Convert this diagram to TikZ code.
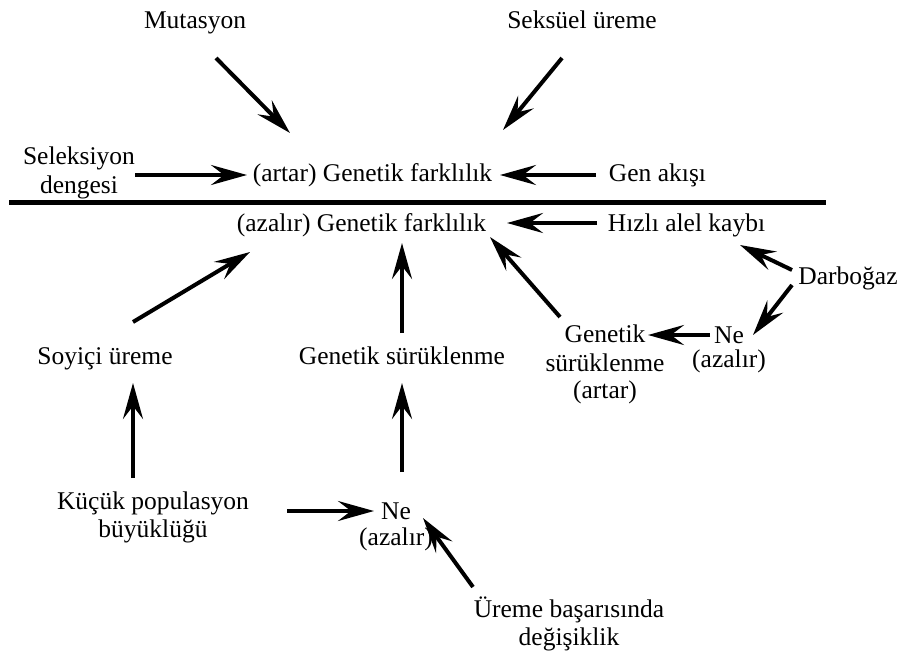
\documentclass[tikz,border=0pt]{standalone}
\usepackage{fontspec}
\setmainfont{Liberation Serif}
\usetikzlibrary{arrows.meta}
\tikzset{
  lbl/.style={inner sep=0pt, anchor=base, align=center,
    font=\fontsize{25.5}{29}\selectfont},
  arr/.style={line width=4pt,
    -{Stealth[length=36pt, width=20pt, inset=13pt]}},
}
\begin{document}
\begin{tikzpicture}[x=1pt,y=-1pt]
\useasboundingbox (0,0) rectangle (905,656);

% labels above the dividing line (multi-line nodes sit on their last baseline)
\node[lbl] (mut) at (195,28.5) {Mutasyon};
\node[lbl] (sex) at (582,28.5) {Seksüel üreme};
\node[lbl] (sel) at (79,193) {Seleksiyon\\dengesi};
\node[lbl] (gfa) at (372.5,181) {(artar) Genetik farklılık};
\node[lbl] (gen) at (657.5,181) {Gen akışı};

% dividing line
\draw[line width=5pt] (9,202) -- (826,202);

% labels below the dividing line
\node[lbl] (gfz) at (361.5,231) {(azalır) Genetik farklılık};
\node[lbl] (hiz) at (686.5,231) {Hızlı alel kaybı};
\node[lbl] (dar) at (848,284) {Darboğaz};
\node[lbl] (ner) at (729,367) {Ne\\[-5pt](azalır)};
\node[lbl] (gsa) at (605,398) {Genetik\\sürüklenme\\[-2pt](artar)};
\node[lbl] (gsm) at (402,364) {Genetik sürüklenme};
\node[lbl] (soy) at (105,364) {Soyiçi üreme};
\node[lbl] (kuc) at (153,537) {Küçük populasyon\\[-1pt]büyüklüğü};
\node[lbl] (nel) at (396,545) {Ne\\[-3pt](azalır)};
\node[lbl] (ure) at (569,645) {Üreme başarısında\\[-1pt]değişiklik};

% arrows into (artar) Genetik farklılık
\draw[arr] ([shift={(21,29.5)}]mut.base) -- ([shift={(-82.5,-48)}]gfa.base);
\draw[arr] ([shift={(-20,29.5)}]sex.base) -- ([shift={(130.5,-51)}]gfa.base);
\draw[arr] ([shift={(56,-18)}]sel.base) -- ([shift={(-125.5,-6)}]gfa.base);
\draw[arr] ([shift={(-61.5,-6)}]gen.base) -- ([shift={(127.5,-6)}]gfa.base);

% arrows into (azalır) Genetik farklılık
\draw[arr] ([shift={(-89.5,-8)}]hiz.base) -- ([shift={(145.5,-8)}]gfz.base);
\draw[arr] ([shift={(-45,-81)}]gsa.base) -- ([shift={(128.5,6)}]gfz.base);
\draw[arr] ([shift={(0,-31)}]gsm.base) -- ([shift={(40.5,12)}]gfz.base);
\draw[arr] ([shift={(28,-42)}]soy.base) -- ([shift={(-111.5,21)}]gfz.base);

% bottleneck branch
\draw[arr] ([shift={(-56,-14)}]dar.base) -- ([shift={(53.5,14)}]hiz.base);
\draw[arr] ([shift={(-56,1)}]dar.base) -- ([shift={(24,-32)}]ner.base);
\draw[arr] ([shift={(-19,-32)}]ner.base) -- ([shift={(43,-63)}]gsa.base);

% small population branch
\draw[arr] ([shift={(-20,-59)}]kuc.base) -- ([shift={(28,19)}]soy.base);
\draw[arr] ([shift={(134,-26)}]kuc.base) -- ([shift={(-22,-34)}]nel.base);
\draw[arr] ([shift={(6,-73)}]nel.base) -- ([shift={(0,19)}]gsm.base);
\draw[arr] ([shift={(-96,-58)}]ure.base) -- ([shift={(27,-27)}]nel.base);
\end{tikzpicture}
\end{document}
